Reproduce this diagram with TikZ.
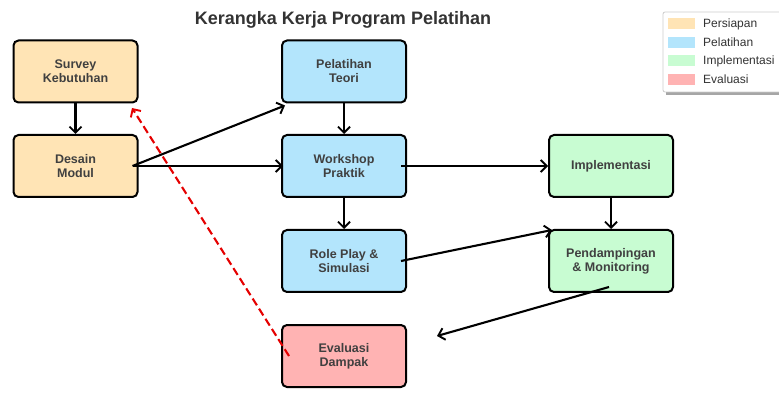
\documentclass[tikz,border=0pt]{standalone}
\usepackage{fontspec}
\setmainfont{Liberation Sans}
\usetikzlibrary{arrows.meta}
\definecolor{cPers}{RGB}{255,228,181}
\definecolor{cPel}{RGB}{179,229,252}
\definecolor{cImp}{RGB}{200,252,210}
\definecolor{cEva}{RGB}{255,179,179}
\definecolor{txt}{RGB}{64,64,64}
\definecolor{legtxt}{RGB}{51,51,51}
\tikzset{
  box/.style={draw=black, line width=2pt, rounded corners=5pt, minimum width=124pt, minimum height=62pt, inner sep=0pt,
    align=center, text=txt, font=\fontsize{12.5}{14}\selectfont\bfseries},
  arr/.style={line width=2.1pt, -{Straight Barb[length=6pt,width=12pt,line width=1.9pt]}},
  redarr/.style={line width=2.1pt, red!90!black, dash pattern=on 8pt off 4pt, -{Straight Barb[length=6pt,width=12pt,line width=1.9pt]}},
  legpatch/.style={minimum width=27pt, minimum height=11pt, inner sep=0pt},
  legtext/.style={anchor=west, inner sep=0pt, text=legtxt, font=\fontsize{12}{14}\selectfont}
}
\begin{document}
\begin{tikzpicture}[x=1pt,y=-1pt]
\useasboundingbox (0,0) rectangle (779,403);
\node[text=legtxt, font=\fontsize{18}{20}\selectfont\bfseries] (title) at (343,20) {Kerangka Kerja Program Pelatihan};

\node[box, fill=cPers] (survey) at (75.5,71.5) {Survey\\Kebutuhan};
\node[box, fill=cPers] (desain) at (75.5,166) {Desain\\Modul};
\node[box, fill=cPel] (teori) at (344,71.5) {Pelatihan\\Teori};
\node[box, fill=cPel] (workshop) at (344,166) {Workshop\\Praktik};
\node[box, fill=cPel] (role) at (344,261) {Role Play \&\\Simulasi};
\node[box, fill=cEva] (eval) at (344,356) {Evaluasi\\Dampak};
\node[box, fill=cImp] (impl) at (611,166) {Implementasi};
\node[box, fill=cImp] (pend) at (611,261) {Pendampingan\\\& Monitoring};

% connectors
\coordinate (dstart) at ([xshift=-6pt]desain.east);
\coordinate (wstart) at ([xshift=-6pt]workshop.east);
\coordinate (rstart) at ([xshift=-6pt]role.east);
\coordinate (pstart) at ([xshift=-2pt,yshift=-26pt]pend.center);
\coordinate (pend-end) at (437,336);
\coordinate (estart) at ([xshift=-55pt]eval.center);
\coordinate (send) at (132,108);

\draw[arr] (survey.south) -- (desain.north);
\draw[arr] (dstart) -- ([xshift=4pt,yshift=-2pt]teori.south west);
\draw[arr] (dstart) -- ([xshift=2pt]workshop.west);
\draw[arr] (teori.south) -- (workshop.north);
\draw[arr] (workshop.south) -- (role.north);
\draw[arr] (wstart) -- (impl.west);
\draw[arr] (rstart) -- ([xshift=4pt,yshift=-1pt]pend.north west);
\draw[arr] (impl.south) -- (pend.north);
\draw[arr] (pstart) -- (pend-end);
\draw[redarr] (estart) -- (send);

% legend
\fill[black!35] (666,15) rectangle (782,95);
\draw[black!20, fill=white, rounded corners=2pt, line width=0.8pt] (663,12) rectangle (790,92);
\node[legpatch, fill=cPers] (lp1) at (681,24) {};
\node[legpatch, fill=cPel] (lp2) at (681,42.5) {};
\node[legpatch, fill=cImp] (lp3) at (681,61) {};
\node[legpatch, fill=cEva] (lp4) at (681,79.5) {};
\node[legtext] (lt1) at (703,24) {Persiapan};
\node[legtext] (lt2) at (703,42.5) {Pelatihan};
\node[legtext] (lt3) at (703,61) {Implementasi};
\node[legtext] (lt4) at (703,79.5) {Evaluasi};
\end{tikzpicture}
\end{document}
